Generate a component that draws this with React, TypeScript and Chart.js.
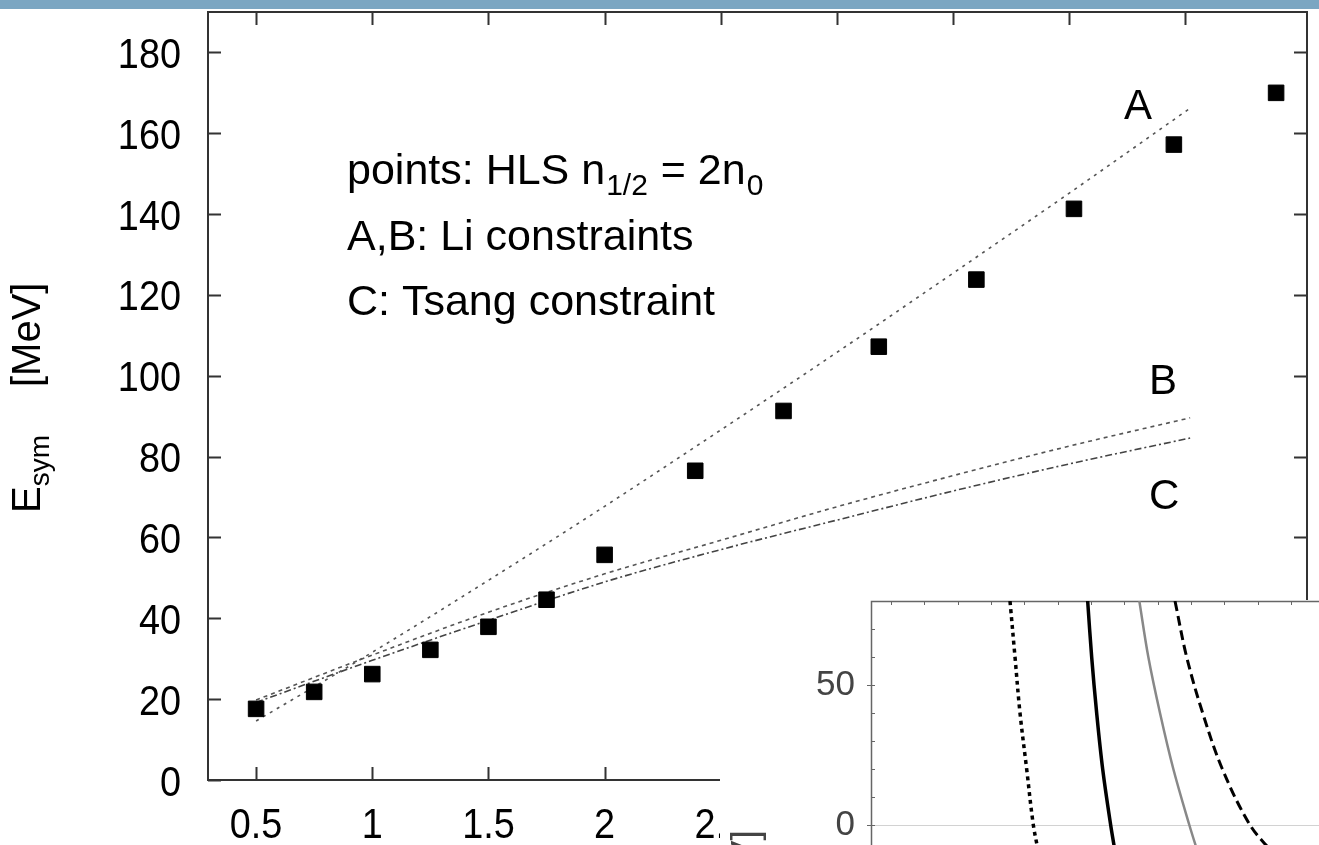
import { useEffect, useRef } from "react";
import { Chart, registerables } from "chart.js";

Chart.register(...registerables);

const FONT = "'Liberation Sans', Arial, Helvetica, sans-serif";

// ---- main panel: symmetry energy vs. density ----
const densityTicks = [0.5, 1, 1.5, 2, 2.5, 3, 3.5, 4, 4.5];
const esymTicks = [0, 20, 40, 60, 80, 100, 120, 140, 160, 180];

// HLS points (n_1/2 = 2 n_0)
const hlsDensity = [0.5, 0.75, 1.0, 1.25, 1.5, 1.75, 2.0, 2.39, 2.77, 3.18, 3.6, 4.02, 4.45, 4.89];
const hlsEsym = [17.6, 21.8, 26.2, 32.2, 37.9, 44.6, 55.7, 76.5, 91.3, 107.2, 123.8, 141.3, 157.2, 170.0];

// constraint curves
const curveDensity = [0.5, 1, 1.5, 2, 2.5, 3, 3.5, 4, 4.52];
const liA = [14.6, 31.6, 49.4, 67.7, 86.6, 105.8, 125.4, 145.2, 166.2];
const liB = [19.8, 30.9, 41.5, 51.0, 59.3, 67.6, 75.3, 82.6, 89.6];
const tsangC = [19.2, 29.6, 39.5, 49.0, 57.0, 64.3, 71.5, 78.2, 84.6];

// ---- inset panel ----
const insetXTicks = [1.0, 1.1, 1.2, 1.3, 1.4, 1.5, 1.6, 1.7, 1.8, 1.9, 2.0, 2.1, 2.2];
const insetYTicks = [0, 50];
const insetYMinor = [0, 10, 20, 30, 40, 50, 60, 70];
const insetLevels = [80, 60, 40, 20, 0, -10];
const dottedX = [1.357, 1.372, 1.387, 1.407, 1.427, 1.443];
const solidX = [1.59, 1.602, 1.617, 1.635, 1.659, 1.673];
const grayX = [1.745, 1.772, 1.807, 1.847, 1.895, 1.921];
const dashedX = [1.852, 1.887, 1.935, 1.994, 2.077, 2.146];

type Run = [string, number, number, number?];

function drawRuns(ctx: CanvasRenderingContext2D, x: number, y: number, runs: Run[]) {
  for (const [s, size, dy, extra] of runs) {
    ctx.font = `${size}px ${FONT}`;
    ctx.fillText(s, x, y + dy);
    x += ctx.measureText(s).width + (extra || 0);
  }
}

// tick labels are set in a slightly narrowed face
function drawNarrow(ctx: CanvasRenderingContext2D, text: string, x: number, y: number, align: CanvasTextAlign) {
  ctx.save();
  ctx.translate(x, y);
  ctx.scale(0.88, 1);
  ctx.textAlign = align;
  ctx.fillText(text, 0, 0);
  ctx.restore();
}

const noPad = (s: any) => {
  s.paddingTop = 0;
  s.paddingBottom = 0;
  s.paddingLeft = 0;
  s.paddingRight = 0;
};

const mainDecor = {
  id: "mainDecor",
  beforeDatasetsDraw(chart: any) {
    const { ctx, chartArea: a, scales } = chart;
    const sx = scales.x;
    const sy = scales.y;
    ctx.save();
    ctx.strokeStyle = "#333";
    ctx.lineWidth = 2;
    ctx.strokeRect(a.left, a.top, a.right - a.left, a.bottom - a.top);
    const t = 13;
    ctx.beginPath();
    for (const v of densityTicks) {
      const px = Math.round(sx.getPixelForValue(v)) + 0.5;
      ctx.moveTo(px, a.top);
      ctx.lineTo(px, a.top + t);
      ctx.moveTo(px, a.bottom);
      ctx.lineTo(px, a.bottom - t);
    }
    for (const v of esymTicks) {
      const py = Math.round(sy.getPixelForValue(v)) + 0.5;
      ctx.moveTo(a.left, py);
      ctx.lineTo(a.left + t, py);
      ctx.moveTo(a.right, py);
      ctx.lineTo(a.right - t, py);
    }
    ctx.stroke();

    // tick labels
    ctx.fillStyle = "#000";
    ctx.font = `43px ${FONT}`;
    ctx.textBaseline = "alphabetic";
    for (const v of densityTicks) {
      drawNarrow(ctx, String(v), sx.getPixelForValue(v), 838, "center");
    }
    for (const v of esymTicks) {
      drawNarrow(ctx, String(v), 181, sy.getPixelForValue(v) + 15.5, "right");
    }
    ctx.restore();
  },
  afterDraw(chart: any) {
    const { ctx } = chart;
    ctx.save();
    ctx.fillStyle = "#000";
    ctx.textBaseline = "alphabetic";
    ctx.textAlign = "left";
    drawRuns(ctx, 347, 184, [
      ["points: HLS n", 43, 0, 1],
      ["1/2", 30, 11, 1],
      [" = 2n", 43, 0, 1],
      ["0", 30, 11],
    ]);
    drawRuns(ctx, 347, 250, [["A,B: Li constraints", 43, 0]]);
    drawRuns(ctx, 347, 315, [["C: Tsang constraint", 43, 0]]);
    drawRuns(ctx, 1124, 119, [["A", 42, 0]]);
    drawRuns(ctx, 1149, 394, [["B", 42, 0]]);
    drawRuns(ctx, 1149, 509, [["C", 42, 0]]);

    // rotated axis title
    ctx.translate(40, 513);
    ctx.rotate(-Math.PI / 2);
    drawRuns(ctx, 0, 0, [["E", 40, 0], ["sym", 28, 9]]);
    drawRuns(ctx, 126, 0, [["[MeV]", 40, 0]]);
    ctx.restore();
  },
};

const insetDecor = {
  id: "insetDecor",
  beforeDatasetsDraw(chart: any) {
    const { ctx, chartArea: a, scales } = chart;
    const sx = scales.x;
    const sy = scales.y;
    ctx.save();
    // zero line
    const y0 = Math.round(sy.getPixelForValue(0)) + 0.5;
    ctx.strokeStyle = "#d2d2d2";
    ctx.lineWidth = 1;
    ctx.beginPath();
    ctx.moveTo(a.left, y0);
    ctx.lineTo(a.right, y0);
    ctx.stroke();

    // frame and small ticks
    ctx.strokeStyle = "#666";
    ctx.lineWidth = 1.5;
    ctx.beginPath();
    ctx.moveTo(a.right, a.top + 0.5);
    ctx.lineTo(a.left + 0.5, a.top + 0.5);
    ctx.lineTo(a.left + 0.5, a.bottom);
    ctx.stroke();
    ctx.lineWidth = 1;
    ctx.beginPath();
    for (const v of insetXTicks) {
      const px = Math.round(sx.getPixelForValue(v)) + 0.5;
      ctx.moveTo(px, a.top);
      ctx.lineTo(px, a.top + 4);
    }
    for (const v of insetYMinor) {
      const py = Math.round(sy.getPixelForValue(v)) + 0.5;
      ctx.moveTo(a.left, py);
      ctx.lineTo(a.left + 4, py);
    }
    for (const v of insetYTicks) {
      const py = Math.round(sy.getPixelForValue(v)) + 0.5;
      ctx.moveTo(a.left - 4, py);
      ctx.lineTo(a.left, py);
    }
    ctx.stroke();
    ctx.restore();
  },
  afterDraw(chart: any) {
    const { ctx } = chart;
    ctx.save();
    ctx.fillStyle = "#444";
    ctx.font = `38px ${FONT}`;
    ctx.textAlign = "right";
    ctx.textBaseline = "alphabetic";
    ctx.translate(38, 230);
    ctx.rotate(-Math.PI / 2);
    ctx.fillText("[MeV]", 0, 0);
    ctx.restore();
  },
};

const pts = (xs: number[], ys: number[]) => xs.map((x, i) => ({ x, y: ys[i] }));

export default function App() {
  const mainRef = useRef<HTMLCanvasElement>(null);
  const insetRef = useRef<HTMLCanvasElement>(null);

  useEffect(() => {
    const curve = (data: any, color: string, width: number, dash: number[], smooth: any) => ({
      data,
      showLine: true,
      borderColor: color,
      borderWidth: width,
      borderDash: dash,
      pointRadius: 0,
      fill: false,
      ...smooth,
    });
    const monotone = { cubicInterpolationMode: "monotone" };
    const soft = { tension: 0.35 };

    const main = new Chart(mainRef.current!, {
      type: "scatter",
      data: {
        datasets: [
          {
            data: pts(hlsDensity, hlsEsym),
            showLine: false,
            pointStyle: "rect",
            pointRadius: 11,
            backgroundColor: "#000",
            borderColor: "#000",
            borderWidth: 1,
          },
          curve(pts(curveDensity, liA), "#555", 1.6, [3, 5], monotone),
          curve(pts(curveDensity, liB), "#555", 1.6, [4, 4], monotone),
          curve(pts(curveDensity, tsangC), "#444", 1.6, [7, 3, 2, 3], monotone),
        ] as any,
      },
      options: {
        animation: false,
        responsive: false,
        devicePixelRatio: 1,
        events: [],
        layout: { padding: { top: 11.5, right: 7, left: 0, bottom: 0 } },
        plugins: { legend: { display: false }, tooltip: { enabled: false } },
        scales: {
          x: {
            type: "linear",
            min: 0.293,
            max: 5.023,
            grid: { display: false },
            border: { display: false },
            afterBuildTicks: (s: any) => {
              s.ticks = densityTicks.map((v) => ({ value: v }));
            },
            afterFit: (s: any) => {
              s.height = 65;
              noPad(s);
            },
            ticks: { display: false },
          },
          y: {
            type: "linear",
            min: 0,
            max: 190,
            grid: { display: false },
            border: { display: false },
            afterBuildTicks: (s: any) => {
              s.ticks = esymTicks.map((v) => ({ value: v }));
            },
            afterFit: (s: any) => {
              s.width = 208;
              noPad(s);
            },
            ticks: { display: false },
          },
        },
      } as any,
      plugins: [mainDecor],
    });

    const inset = new Chart(insetRef.current!, {
      type: "scatter",
      data: {
        datasets: [
          curve(pts(dottedX, insetLevels), "#000", 3.5, [4, 4], soft),
          curve(pts(solidX, insetLevels), "#000", 3.5, [], soft),
          curve(pts(grayX, insetLevels), "#888", 2.5, [], soft),
          curve(pts(dashedX, insetLevels), "#000", 3, [10, 5], soft),
        ] as any,
      },
      options: {
        animation: false,
        responsive: false,
        devicePixelRatio: 1,
        events: [],
        layout: { padding: { top: 1, right: 0, left: 0, bottom: 0 } },
        plugins: { legend: { display: false }, tooltip: { enabled: false } },
        scales: {
          x: { type: "linear", min: 0.94, max: 2.284, display: false },
          y: {
            type: "linear",
            min: -7.14,
            max: 80,
            grid: { display: false },
            border: { display: false },
            afterBuildTicks: (s: any) => {
              s.ticks = insetYTicks.map((v) => ({ value: v }));
            },
            afterFit: (s: any) => {
              s.width = 151;
              noPad(s);
            },
            ticks: {
              font: { family: FONT, size: 35 },
              color: "#444",
              padding: 8,
              autoSkip: false,
              callback: (v: any) => String(v),
            },
          },
        },
      } as any,
      plugins: [insetDecor],
    });

    return () => {
      main.destroy();
      inset.destroy();
    };
  }, []);

  return (
    <div
      style={{
        position: "fixed",
        left: 0,
        top: 0,
        width: 1319,
        height: 845,
        overflow: "hidden",
        background: "#fff",
      }}
    >
      <canvas ref={mainRef} width={1319} height={845} style={{ position: "absolute", left: 0, top: 0 }} />
      <div style={{ position: "absolute", left: 0, top: 0, width: 1319, height: 9, background: "#7ba6c2" }} />
      <div style={{ position: "absolute", left: 720, top: 600, width: 599, height: 245, background: "#fff" }}>
        <canvas ref={insetRef} width={599} height={245} style={{ display: "block" }} />
      </div>
    </div>
  );
}
